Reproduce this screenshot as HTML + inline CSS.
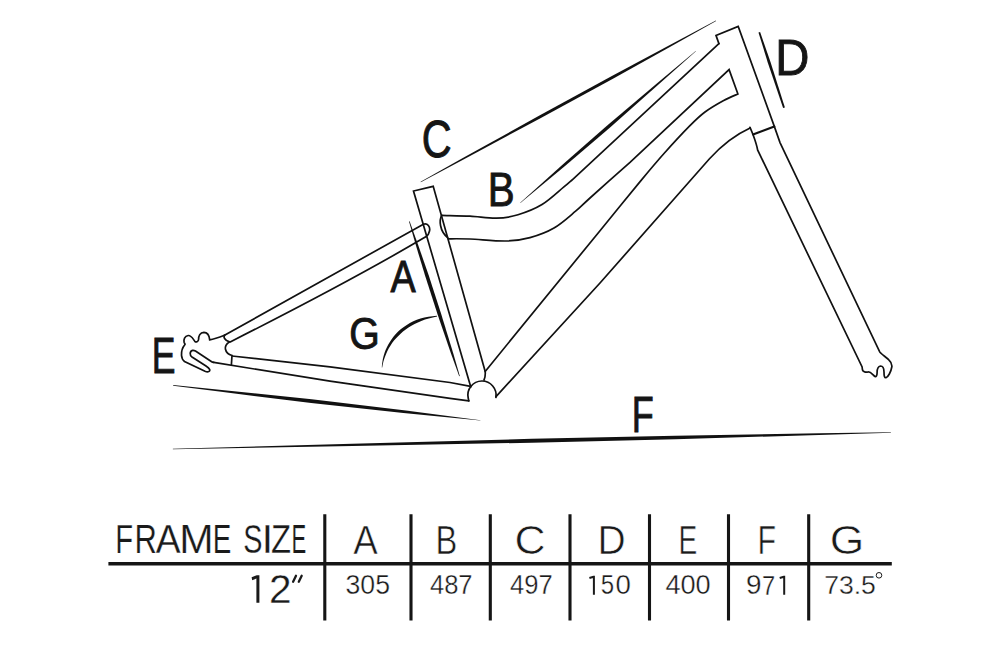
<!DOCTYPE html>
<html><head><meta charset="utf-8"><style>
html,body{margin:0;padding:0;background:#fff;width:1000px;height:666px;overflow:hidden}
svg{display:block}
</style></head><body>
<svg width="1000" height="666" viewBox="0 0 1000 666">
<rect width="1000" height="666" fill="#fff"/>

<!-- head tube cap + right edge + fork right edge -->
<path stroke="#111" fill="none" stroke-width="1.7" stroke-linejoin="miter" stroke-linecap="round" d="M718.9 43.6 L716 35.4 L738.2 26.4 L774.3 126.4 L780 142.6 L879.6 351.6 C881 354 886 357 888.6 359.7 C891 362 892.2 365 891.8 367 C891 372 888 377 886 377.7 C884.5 378 884 376 884 372 C884 368 883 366 880.5 366 C877.5 366.5 877 369 877.1 373 C877 376 876 377 875 376.5 C872 374 870.5 371.5 868 372 C866 372.5 863 372 862.5 370 L862.1 366.9 L757.6 149.9 C757 146 755 140 753 134.5 L750 127.4"/>
<!-- crown -->
<path stroke="#111" fill="none" stroke-width="2.1" stroke-linecap="round" d="M753 134.5 L774.3 126.4"/>
<!-- top tube upper edge -->
<path stroke="#111" fill="none" stroke-width="1.7" stroke-linejoin="miter" stroke-linecap="round" d="M718.9 43.6 L572 180 C570.6 181.2 568.6 183.1 563.6 187.2 C558.6 191.3 549.6 200.0 542.0 204.6 C534.4 209.2 525.6 212.5 518.0 214.8 C510.4 217.1 504.4 218.0 496.4 218.2 C488.4 218.4 479.1 216.7 470.0 216.2 C460.9 215.7 446.4 215.5 441.7 215.3"/>
<!-- top tube lower edge + gusset + down tube upper -->
<path stroke="#111" fill="none" stroke-width="1.7" stroke-linejoin="miter" stroke-linecap="round" d="M448.4 238.8 C452.0 238.8 460.4 238.6 470.0 239.0 C479.6 239.4 496.0 241.2 506.0 241.0 C516.0 240.8 522.0 239.8 530.0 237.6 C538.0 235.4 546.4 232.4 554.0 228.0 C561.6 223.6 569.6 216.2 575.6 211.2 C581.6 206.2 580.9 206.2 590.0 198.0 C599.1 189.8 623.3 168.2 630.0 162.3 L729.1 69.6 L737.9 94 C735.5 95.1 729.2 97.5 723.7 100.5 C718.2 103.5 710.8 107.7 705.0 112.0 C699.2 116.3 696.0 119.5 689.2 126.4 C682.4 133.3 672.1 144.4 664.0 153.5 C655.9 162.6 651.2 168.2 640.5 181.1 C629.8 194.0 606.8 222.4 600.0 230.7 L485.2 371.4 C485.5 375 485 378 484 380"/>
<!-- top tube joint ellipse -->
<path stroke="#111" fill="none" stroke-width="1.7" stroke-linejoin="miter" stroke-linecap="round" d="M441.7 215.3 C439 220 439.5 231 447.6 237.5"/>
<!-- down tube lower edge -->
<path stroke="#111" fill="none" stroke-width="1.7" stroke-linejoin="miter" stroke-linecap="round" d="M750.1 128 C737 134 721 146 709.5 158.8 L600 283 L496 396.6"/>
<!-- BB circle -->
<path stroke="#111" fill="none" stroke-width="1.7" stroke-linejoin="miter" stroke-linecap="round" d="M468.8 400.9 L468.2 398 A14.1 14.1 0 1 1 495.9 397.5"/>
<!-- seat tube -->
<path stroke="#111" fill="none" stroke-width="1.7" stroke-linejoin="miter" stroke-linecap="round" d="M470.8 387 L413.5 191 L433.2 186.3 L485.2 371.4"/>
<!-- seat stay -->
<path stroke="#111" fill="none" stroke-width="1.7" stroke-linejoin="miter" stroke-linecap="round" d="M224.5 335.3 L423.4 224.2 C427.5 222.5 430.5 227 429.5 231 C429 233.5 428 235.5 426.2 236.6 Q348 282.5 230.2 341.9"/>
<!-- chain stay -->
<path stroke="#111" fill="none" stroke-width="1.7" stroke-linejoin="miter" stroke-linecap="round" d="M232 356 L330 366.9 L450 382.5 L470.6 386.3 M213.7 362.4 L330 381.2 L450 398.3 L468.8 400.9"/>
<!-- dropout -->
<path stroke="#111" fill="none" stroke-width="1.7" stroke-linejoin="miter" stroke-linecap="round" d="M224.5 335.3 C219 337.5 214 339.3 209.7 339.8 C209.3 336 207.5 332.5 203.9 332.4 C200 332.4 198.5 336 198.6 339.3 C198.5 342 196 342.5 194.8 341.3 C193 339 191.5 335.3 188.2 335.5 C184.5 336 183.5 339.5 184.1 342.3 C184.5 343.5 185.3 343.8 185 344.5 C182 348 181.3 352 181.5 355.3 C181.7 358.5 182.5 360 184.5 361.5 L205 371.2 C208 372.5 210.5 371.5 209.6 369.3 C209 368 207.5 367 206 366 L192 357 C189.5 355.3 189.5 351.2 192.6 350.4 C193.5 350.2 194.5 350.5 195.5 351 L211.3 361.5 C212 362 212.8 362.3 213.7 362.4"/>
<path stroke="#111" fill="none" stroke-width="1.7" stroke-linejoin="miter" stroke-linecap="round" d="M229.5 341.9 C226 343.5 225 347 225.4 349 C226 352 228.5 354.5 232 355.5 L231.4 364.6 M224.5 335.3 C223.5 337 224 340 229.5 341.9"/>

<path d="M715.9 20.6 L671.3 44.3 L611.9 75.9 L538.1 116.3 L464.6 157.1 L420.6 181.8 L420.8 182.2 L465.4 158.5 L539.5 118.7 L613.4 78.5 L672.1 45.7 L716.1 21.0Z" fill="#111"/><path d="M695.7 50.9 L660.1 80.8 L606.9 125.7 L563.3 164.0 L520.2 202.7 L520.4 203.1 L565.0 165.9 L609.2 128.3 L661.3 82.1 L695.9 51.3Z" fill="#111"/><path d="M758.5 32.5 L767.9 62.9 L783.1 108.0 L784.9 107.4 L770.5 62.0 L760.1 32.1Z" fill="#111"/><path d="M409.0 221.5 L415.8 245.0 L425.2 276.1 L437.7 314.8 L450.9 353.3 L459.2 376.3 L459.8 376.1 L453.0 352.6 L441.1 313.7 L428.6 275.0 L417.9 244.3 L409.6 221.3Z" fill="#111"/><path d="M173.2 385.7 L219.2 391.6 L311.2 403.0 L403.4 413.1 L480.4 420.6 L480.4 420.2 L403.8 410.2 L311.7 399.3 L219.4 389.7 L173.2 385.1Z" fill="#111"/><path d="M172.9 449.3 L352.4 446.1 L531.9 442.7 L675.5 439.2 L819.1 435.0 L890.9 432.7 L890.9 432.3 L819.1 433.3 L675.5 435.7 L531.9 438.8 L352.4 443.7 L172.9 448.7Z" fill="#111"/>
<path d="M382.2 367.5 L382.7 364.7 L383.3 361.9 L384.1 359.2 L385.1 356.4 L386.2 353.7 L387.4 350.9 L388.8 348.3 L390.4 345.7 L392.1 343.1 L394.0 340.6 L396.1 338.2 L398.3 335.9 L400.6 333.7 L403.0 331.5 L405.7 329.4 L408.5 327.5 L411.4 325.7 L414.6 324.0 L417.9 322.5 L421.3 321.0 L425.0 319.6 L428.8 318.4 L432.8 317.4 L437.1 316.6 L436.9 315.8 L432.6 316.2 L428.4 316.7 L424.4 317.5 L420.5 318.5 L416.8 319.7 L413.3 321.3 L409.9 323.0 L406.8 324.9 L403.8 326.9 L401.0 329.1 L398.4 331.3 L396.0 333.7 L393.8 336.3 L391.8 338.9 L390.0 341.7 L388.3 344.4 L386.9 347.2 L385.6 350.1 L384.5 353.0 L383.6 355.9 L382.9 358.8 L382.4 361.7 L382.0 364.6 L381.8 367.5Z" fill="#111"/>
<text font-family="Liberation Sans, sans-serif" fill="#151515" stroke="#151515" stroke-width="0.9" style="font-kerning:none" font-size="50.99" transform="translate(421.75 156.75) scale(0.8114 1)">C</text><text font-family="Liberation Sans, sans-serif" fill="#151515" stroke="#151515" stroke-width="0.9" style="font-kerning:none" font-size="48.84" transform="translate(487.64 205.75) scale(0.8271 1)">B</text><text font-family="Liberation Sans, sans-serif" fill="#151515" stroke="#151515" stroke-width="0.9" style="font-kerning:none" font-size="49.71" transform="translate(775.37 74.55) scale(0.9510 1)">D</text><text font-family="Liberation Sans, sans-serif" fill="#151515" stroke="#151515" stroke-width="0.9" style="font-kerning:none" font-size="44.33" transform="translate(390.38 291.65) scale(0.8539 1)">A</text><text font-family="Liberation Sans, sans-serif" fill="#151515" stroke="#151515" stroke-width="0.9" style="font-kerning:none" font-size="44.21" transform="translate(349.18 349.02) scale(0.8870 1)">G</text><text font-family="Liberation Sans, sans-serif" fill="#151515" stroke="#151515" stroke-width="0.9" style="font-kerning:none" font-size="50.00" transform="translate(151.83 372.65) scale(0.7122 1)">E</text><text font-family="Liberation Sans, sans-serif" fill="#151515" stroke="#151515" stroke-width="0.9" style="font-kerning:none" font-size="49.56" transform="translate(631.70 431.65) scale(0.7265 1)">F</text>
<path stroke="#151515" stroke-width="3.5" fill="none" d="M108.4 563.8 L891.8 563.8"/><path stroke="#151515" stroke-width="3.1" fill="none" d="M324.8 514.3 L324.8 620.5 M411 514.3 L411 620.5 M490.3 514.3 L490.3 620.5 M570 514.3 L570 620.5 M649.5 514.3 L649.5 620.5 M728.5 514.3 L728.5 620.5 M808.7 514.3 L808.7 620.5"/><text font-family="Liberation Sans, sans-serif" fill="#1a1a1a" stroke="#fff" stroke-width="0.25" style="font-kerning:none" font-size="40.41" transform="translate(115.20 553.30) scale(0.7240 1)">F</text><text font-family="Liberation Sans, sans-serif" fill="#1a1a1a" stroke="#fff" stroke-width="0.25" style="font-kerning:none" font-size="40.41" transform="translate(134.56 553.30) scale(0.7669 1)">R</text><text font-family="Liberation Sans, sans-serif" fill="#1a1a1a" stroke="#fff" stroke-width="0.25" style="font-kerning:none" font-size="40.41" transform="translate(155.83 553.30) scale(0.9219 1)">A</text><text font-family="Liberation Sans, sans-serif" fill="#1a1a1a" stroke="#fff" stroke-width="0.25" style="font-kerning:none" font-size="40.41" transform="translate(179.22 553.30) scale(1.0211 1)">M</text><text font-family="Liberation Sans, sans-serif" fill="#1a1a1a" stroke="#fff" stroke-width="0.25" style="font-kerning:none" font-size="40.41" transform="translate(212.81 553.30) scale(0.6895 1)">E</text><text font-family="Liberation Sans, sans-serif" fill="#1a1a1a" stroke="#fff" stroke-width="0.25" style="font-kerning:none" font-size="40.40" transform="translate(243.29 553.31) scale(0.7138 1)">S</text><text font-family="Liberation Sans, sans-serif" fill="#1a1a1a" stroke="#fff" stroke-width="0.25" style="font-kerning:none" font-size="40.41" transform="translate(261.84 553.30) scale(1.0084 1)">I</text><text font-family="Liberation Sans, sans-serif" fill="#1a1a1a" stroke="#fff" stroke-width="0.25" style="font-kerning:none" font-size="40.41" transform="translate(270.96 553.30) scale(0.8131 1)">Z</text><text font-family="Liberation Sans, sans-serif" fill="#1a1a1a" stroke="#fff" stroke-width="0.25" style="font-kerning:none" font-size="40.41" transform="translate(291.58 553.30) scale(0.5479 1)">E</text><path d="M251.6 577.2 L256.8 575.2 L259.4 575.2 L259.4 602.8 L256.4 602.8 L256.4 578.6 L252.2 580.2Z" fill="#1a1a1a"/><text font-family="Liberation Sans, sans-serif" fill="#1a1a1a" stroke="#fff" stroke-width="0.35" style="font-kerning:none" font-size="39.96" transform="translate(268.96 602.80) scale(1.0163 1)">2</text><path d="M296 575.8 L293.1 581.8 M301.7 575.8 L298.8 581.8" stroke="#1a1a1a" stroke-width="2.3" stroke-linecap="round"/><text font-family="Liberation Sans, sans-serif" fill="#1a1a1a" stroke="#fff" stroke-width="0.6" style="font-kerning:none" font-size="40.84" transform="translate(353.23 553.90) scale(0.9009 1)">A</text><text font-family="Liberation Sans, sans-serif" fill="#1a1a1a" stroke="#fff" stroke-width="0.6" style="font-kerning:none" font-size="40.84" transform="translate(435.62 553.90) scale(0.8004 1)">B</text><text font-family="Liberation Sans, sans-serif" fill="#1a1a1a" stroke="#fff" stroke-width="0.6" style="font-kerning:none" font-size="41.10" transform="translate(514.61 554.00) scale(1.0488 1)">C</text><text font-family="Liberation Sans, sans-serif" fill="#1a1a1a" stroke="#fff" stroke-width="0.6" style="font-kerning:none" font-size="40.84" transform="translate(597.60 553.90) scale(0.9549 1)">D</text><text font-family="Liberation Sans, sans-serif" fill="#1a1a1a" stroke="#fff" stroke-width="0.6" style="font-kerning:none" font-size="40.84" transform="translate(678.38 553.90) scale(0.6912 1)">E</text><text font-family="Liberation Sans, sans-serif" fill="#1a1a1a" stroke="#fff" stroke-width="0.6" style="font-kerning:none" font-size="40.84" transform="translate(757.50 553.90) scale(0.7464 1)">F</text><text font-family="Liberation Sans, sans-serif" fill="#1a1a1a" stroke="#fff" stroke-width="0.6" style="font-kerning:none" font-size="41.10" transform="translate(829.77 554.00) scale(1.0808 1)">G</text><text font-family="Liberation Sans, sans-serif" fill="#1a1a1a" stroke="#fff" stroke-width="0.35" style="font-kerning:none" font-size="26.84" transform="translate(345.48 594.44) scale(0.9947 1)">305</text><text font-family="Liberation Sans, sans-serif" fill="#1a1a1a" stroke="#fff" stroke-width="0.35" style="font-kerning:none" font-size="26.84" transform="translate(429.91 594.44) scale(0.9531 1)">487</text><text font-family="Liberation Sans, sans-serif" fill="#1a1a1a" stroke="#fff" stroke-width="0.35" style="font-kerning:none" font-size="26.84" transform="translate(510.01 594.44) scale(0.9531 1)">497</text><path d="M589.40 577.98 L593.50 576.70 L593.90 576.70 L593.90 594.70" fill="none" stroke="#1a1a1a" stroke-width="2.0" stroke-linejoin="miter"/><text font-family="Liberation Sans, sans-serif" fill="#1a1a1a" stroke="#fff" stroke-width="0.35" style="font-kerning:none" font-size="26.94" transform="translate(600.64 594.44) scale(0.8924 1)">5</text><text font-family="Liberation Sans, sans-serif" fill="#1a1a1a" stroke="#fff" stroke-width="0.35" style="font-kerning:none" font-size="26.84" transform="translate(615.52 594.44) scale(1.0290 1)">0</text><text font-family="Liberation Sans, sans-serif" fill="#1a1a1a" stroke="#fff" stroke-width="0.35" style="font-kerning:none" font-size="26.84" transform="translate(665.38 594.44) scale(1.0114 1)">400</text><text font-family="Liberation Sans, sans-serif" fill="#1a1a1a" stroke="#fff" stroke-width="0.35" style="font-kerning:none" font-size="26.84" transform="translate(745.89 594.44) scale(1.0407 1)">9</text><text font-family="Liberation Sans, sans-serif" fill="#1a1a1a" stroke="#fff" stroke-width="0.35" style="font-kerning:none" font-size="27.33" transform="translate(761.88 594.70) scale(0.8694 1)">7</text><path d="M779.70 577.98 L783.80 576.70 L784.20 576.70 L784.20 594.70" fill="none" stroke="#1a1a1a" stroke-width="2.0" stroke-linejoin="miter"/><text font-family="Liberation Sans, sans-serif" fill="#1a1a1a" stroke="#fff" stroke-width="0.35" style="font-kerning:none" font-size="26.41" transform="translate(824.14 594.44) scale(1.0073 1)">73.5</text><circle cx="879" cy="575.3" r="2.8" fill="none" stroke="#1a1a1a" stroke-width="1"/>
</svg>
</body></html>
